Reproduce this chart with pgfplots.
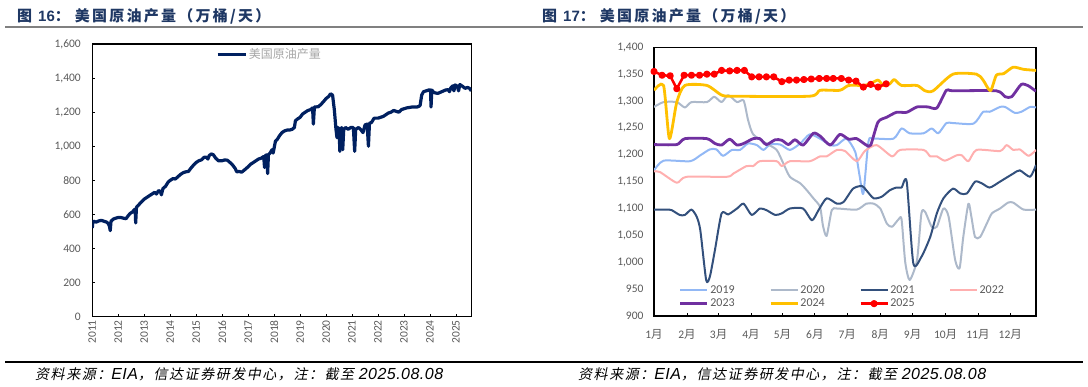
\documentclass[border=0pt]{standalone}
\usepackage{pgfplots}
\pgfplotsset{compat=1.18}
\usepackage{fontspec}
\setmainfont{Carlito}
\newfontfamily\cjk{Noto Sans CJK SC}
\newfontfamily\cjkt{Noto Sans CJK SC}[LetterSpace=15]
\newfontfamily\cjkit{Noto Sans CJK SC}[FakeSlant=0.2, LetterSpace=11]
\newfontfamily\arial{Liberation Sans}
\newfontfamily\arialsp{Liberation Sans}[LetterSpace=3]
\definecolor{titleblue}{HTML}{1F3864}
\definecolor{labelgray}{HTML}{595959}
\definecolor{leggray}{HTML}{A6A6A6}
\definecolor{navy}{HTML}{002060}
\definecolor{c2019}{HTML}{92B8F5}
\definecolor{c2020}{HTML}{ADB9CA}
\definecolor{c2021}{HTML}{33507C}
\definecolor{c2022}{HTML}{FFAFAF}
\definecolor{c2023}{HTML}{7030A0}
\definecolor{c2024}{HTML}{FFC000}
\definecolor{c2025}{HTML}{FF0000}
\begin{document}
\begin{tikzpicture}[x=1pt,y=1pt]
\path[use as bounding box] (0,0) rectangle (1088,387);
% titles
\node[anchor=west, inner sep=0, text=titleblue] at (17,371) {\fontsize{15}{18}\selectfont{\cjkt\bfseries 图}\hspace{6pt}{\arial\bfseries 16}{\cjkt\bfseries ：}\hspace{5pt}{\cjkt\bfseries 美国原油产量（万桶/天）}};
\node[anchor=west, inner sep=0, text=titleblue] at (542,371) {\fontsize{15}{18}\selectfont{\cjkt\bfseries 图}\hspace{6pt}{\arial\bfseries 17}{\cjkt\bfseries ：}\hspace{5pt}{\cjkt\bfseries 美国原油产量（万桶/天）}};
\draw[line width=2pt, color=black!50] (5,360) -- (1083,360);
\draw[line width=1.2pt, black] (5,25) -- (1083,25);
\node[anchor=west, inner sep=0] at (35,12.5) {\fontsize{14}{16}\selectfont\cjkit 资料来源：{\arialsp\itshape\fontsize{16}{16}\selectfont EIA}，信达证券研发中心，注：截至 {\arialsp\itshape\fontsize{16}{16}\selectfont 2025.08.08}};
\node[anchor=west, inner sep=0] at (578,12.5) {\fontsize{14}{16}\selectfont\cjkit 资料来源：{\arialsp\itshape\fontsize{16}{16}\selectfont EIA}，信达证券研发中心，注：截至 {\arialsp\itshape\fontsize{16}{16}\selectfont 2025.08.08}};

% left chart
\begin{axis}[
  at={(92.3pt,70.3pt)}, anchor=south west, scale only axis,
  width=379pt, height=272.7pt,
  xmin=2011, xmax=2025.59, ymin=0, ymax=1600,
  xtick={2011,...,2025}, ytick={0,200,...,1600},
  xtick pos=bottom, ytick pos=left, tick align=inside,
  major tick length=3pt,
  axis line style={line width=1.1pt, black},
  tick style={black, line width=0.8pt},
  /pgf/number format/assume math mode=true,
  yticklabel style={font=\fontsize{11.5}{12}\selectfont, text=labelgray, /pgf/number format/1000 sep={,}, xshift=-8pt},
  xticklabel style={font=\fontsize{11.5}{12}\selectfont, text=labelgray, rotate=90, anchor=east, /pgf/number format/1000 sep={}},
  legend style={at={(0.326,0.99)}, anchor=north west, draw=none, fill=none, font={\cjk\fontsize{12}{13}\selectfont}, text=leggray, inner sep=0pt, nodes={inner sep=1.5pt}},
  legend image code/.code={\draw[#1] (0pt,0pt) -- (28pt,0pt);},
]
\addplot[color=navy, line width=3.2pt, line join=round] coordinates {
(2011.00,520)(2011.02,555)(2011.05,560)(2011.15,555)(2011.25,562)(2011.35,565)(2011.45,560)
(2011.55,555)(2011.62,545)(2011.66,530)(2011.69,505)(2011.72,560)(2011.80,572)(2011.90,578)
(2012.00,582)(2012.10,582)(2012.20,578)(2012.30,575)(2012.38,592)(2012.45,605)(2012.55,615)
(2012.62,628)(2012.65,630)(2012.67,550)(2012.70,642)(2012.78,655)(2012.88,672)(2013.00,690)
(2013.10,700)(2013.20,710)(2013.30,720)(2013.40,730)(2013.47,720)(2013.55,740)(2013.62,735)
(2013.66,715)(2013.72,752)(2013.82,765)(2013.92,790)(2014.00,800)(2014.10,810)(2014.20,808)
(2014.30,822)(2014.40,835)(2014.50,845)(2014.60,850)(2014.70,852)(2014.80,872)(2014.90,890)
(2015.00,905)(2015.10,915)(2015.20,920)(2015.30,935)(2015.40,935)(2015.45,925)(2015.50,945)
(2015.58,955)(2015.66,950)(2015.75,930)(2015.85,915)(2016.00,915)(2016.10,920)(2016.20,918)
(2016.30,905)(2016.40,890)(2016.50,870)(2016.56,850)(2016.65,852)(2016.75,848)(2016.85,860)
(2017.00,880)(2017.10,895)(2017.20,905)(2017.30,915)(2017.40,925)(2017.50,930)(2017.55,935)
(2017.60,940)(2017.63,875)(2017.66,945)(2017.72,950)(2017.75,840)(2017.78,950)(2017.85,962)
(2017.92,980)(2017.96,960)(2018.00,990)(2018.05,1030)(2018.12,1040)(2018.20,1060)(2018.30,1080)
(2018.40,1090)(2018.50,1095)(2018.60,1095)(2018.70,1100)(2018.78,1110)(2018.82,1150)(2018.90,1160)
(2019.00,1170)(2019.10,1190)(2019.20,1200)(2019.30,1210)(2019.40,1215)(2019.48,1225)(2019.51,1130)
(2019.55,1230)(2019.70,1232)(2019.80,1245)(2019.90,1262)(2020.00,1280)(2020.10,1292)(2020.17,1308)
(2020.25,1300)(2020.32,1210)(2020.38,1100)(2020.42,1050)(2020.46,1110)(2020.50,1100)(2020.53,970)
(2020.56,1090)(2020.60,1110)(2020.64,980)(2020.68,1100)(2020.75,1110)(2020.85,1100)(2020.95,1110)
(2021.05,1110)(2021.10,970)(2021.14,1100)(2021.25,1110)(2021.35,1095)(2021.42,1080)(2021.50,1125)
(2021.58,1130)(2021.63,1000)(2021.67,1135)(2021.75,1140)(2021.85,1165)(2022.00,1165)(2022.10,1170)
(2022.20,1175)(2022.30,1185)(2022.40,1195)(2022.50,1200)(2022.60,1210)(2022.70,1205)(2022.80,1200)
(2022.90,1215)(2023.00,1220)(2023.10,1225)(2023.30,1230)(2023.50,1230)(2023.58,1235)(2023.62,1240)
(2023.68,1300)(2023.75,1320)(2023.85,1325)(2023.95,1330)(2024.02,1330)(2024.04,1230)(2024.07,1330)
(2024.15,1315)(2024.30,1310)(2024.45,1320)(2024.60,1330)(2024.70,1332)(2024.75,1320)(2024.80,1342)
(2024.88,1355)(2024.92,1325)(2024.97,1360)(2025.05,1352)(2025.10,1325)(2025.15,1362)(2025.25,1352)
(2025.35,1340)(2025.45,1345)(2025.52,1340)(2025.59,1325)
};
\addlegendentry{美国原油产量}
\end{axis}

% right chart
\begin{axis}[
  at={(654pt,71pt)}, anchor=south west, scale only axis,
  width=382pt, height=268.7pt,
  xmin=0, xmax=52, ymin=900, ymax=1400,
  ytick={900,950,...,1400},
  xtick={0,4.49,8.8,13.2,17.5,21.9,26.3,30.8,35.2,39.7,44.1,48.5},
  xticklabels={1{\cjk 月},2{\cjk 月},3{\cjk 月},4{\cjk 月},5{\cjk 月},6{\cjk 月},7{\cjk 月},8{\cjk 月},9{\cjk 月},10{\cjk 月},11{\cjk 月},12{\cjk 月}},
  xtick pos=bottom, ytick pos=left, tick align=inside,
  major tick length=3pt,
  axis line style={line width=1.1pt, black},
  xtick style={black, line width=0.8pt},
  ytick style={draw=none},
  /pgf/number format/assume math mode=true,
  yticklabel style={font=\fontsize{11.5}{12}\selectfont, text=labelgray, /pgf/number format/1000 sep={,}, xshift=-7pt},
  xticklabel style={font=\fontsize{11.5}{12}\selectfont, text=labelgray, yshift=-10pt},
  legend columns=4,
  legend style={at={(0.065,0.119)}, anchor=north west, draw=none, fill=none, font=\fontsize{12}{13}\selectfont, text=labelgray, inner sep=0pt, nodes={inner sep=1.5pt}, row sep=1pt, /tikz/every even column/.append style={column sep=33pt}},
  legend image code/.code={\draw[mark repeat=2,mark phase=2,#1] plot coordinates {(0pt,0pt) (13.5pt,0pt) (27pt,0pt)};},
  every axis plot/.append style={line join=round},
]
\addplot[color=c2019, line width=2pt, smooth, tension=0.4] coordinates {
(0,1171)(1.3,1189)(4.9,1188)(6.3,1199)(7.6,1210)(8.5,1210)(9.4,1198)(10.6,1209)(11.7,1209)
(12.8,1221)(14.0,1218)(14.9,1209)(15.8,1219)(17.2,1219)(18.5,1209)(19.9,1221)(21.2,1238)
(22.6,1230)(24.0,1218)(24.9,1218)(26.2,1230)(27.4,1205)(28.0,1160)(28.5,1128)(29.2,1225)
(29.9,1230)(32.6,1230)(33.7,1249)(34.8,1240)(36.7,1240)(37.8,1249)(38.7,1240)(39.8,1259)
(40.7,1259)(43.5,1258)(44.8,1280)(45.7,1280)(47.1,1289)(47.8,1289)(49.1,1278)(50.0,1280)
(51.2,1289)(52.0,1288)
};
\addlegendentry{2019}
\addplot[color=c2020, line width=2pt, smooth, tension=0.4] coordinates {
(0,1289)(1.3,1298)(3.1,1298)(4.2,1288)(5.1,1298)(7.2,1298)(8.2,1308)(9.2,1298)(10.1,1311)
(11.3,1298)(12.2,1301)(12.8,1265)(13.5,1238)(15.3,1221)(16.7,1209)(17.6,1184)(18.5,1159)
(19.9,1147)(20.8,1134)(21.7,1119)(22.6,1103)(23.0,1068)(23.5,1049)(24.2,1097)(24.9,1100)
(27.6,1098)(28.9,1109)(29.9,1109)(30.8,1100)(31.7,1072)(32.4,1066)(33.3,1080)(33.7,1080)
(34.2,1000)(34.8,967)(35.8,1004)(36.4,1091)(36.9,1094)(37.8,1066)(38.5,1066)(39.4,1100)
(40.1,1085)(41.0,1004)(41.6,989)(42.1,1047)(42.8,1109)(43.2,1085)(43.7,1047)(44.4,1047)
(45.3,1072)(46.0,1091)(47.1,1100)(48.2,1111)(48.9,1111)(50.3,1098)(52.0,1098)
};
\addlegendentry{2020}
\addplot[color=c2021, line width=2pt, smooth, tension=0.4] coordinates {
(0,1098)(1.7,1098)(2.4,1097)(3.5,1088)(4.2,1088)(5.1,1098)(5.8,1085)(6.3,1060)(7.1,967)
(7.6,973)(8.3,1023)(9.2,1091)(10.1,1089)(11.3,1100)(12.2,1109)(13.3,1088)(14.4,1100)
(15.3,1097)(16.5,1088)(17.4,1091)(18.5,1100)(20.3,1100)(21.5,1078)(22.4,1097)(23.5,1119)
(24.9,1109)(25.8,1112)(27.1,1137)(28.3,1142)(28.9,1134)(29.9,1119)(31.0,1122)(32.1,1134)
(33.0,1139)(33.7,1139)(34.4,1150)(35.3,998)(36.4,1010)(37.6,1047)(38.5,1091)(39.4,1119)
(40.7,1137)(41.7,1128)(42.6,1128)(43.7,1150)(44.6,1147)(45.7,1139)(47.1,1150)(48.9,1165)
(49.8,1171)(51.2,1159)(52.0,1181)
};
\addlegendentry{2021}
\addplot[color=c2022, line width=2pt, smooth, tension=0.4] coordinates {
(0,1169)(0.8,1168)(3.1,1148)(4.4,1159)(9.9,1159)(10.8,1165)(12.6,1179)(13.5,1179)(14.4,1188)
(16.7,1188)(17.4,1179)(18.5,1188)(21.2,1188)(22.6,1197)(23.5,1197)(24.9,1209)(26.0,1207)
(27.6,1188)(28.7,1207)(30.3,1218)(32.4,1197)(33.5,1209)(36.7,1209)(37.6,1197)(38.5,1197)
(39.6,1189)(41.2,1199)(41.9,1199)(42.8,1188)(43.9,1209)(47.1,1207)(48.0,1218)(48.9,1209)
(49.8,1210)(51.0,1198)(52.0,1209)
};
\addlegendentry{2022}
\addplot[color=c2023, line width=2.8pt, smooth, tension=0.4] coordinates {
(0,1219)(3.1,1219)(4.2,1230)(7.2,1230)(8.3,1221)(9.2,1218)(10.3,1229)(11.3,1218)(12.2,1221)
(13.5,1230)(14.4,1230)(15.3,1219)(16.5,1228)(17.4,1227)(18.3,1219)(19.2,1228)(20.3,1218)
(21.7,1240)(22.6,1235)(24.0,1218)(25.3,1238)(26.5,1229)(27.6,1230)(28.9,1218)(29.5,1218)
(30.5,1261)(31.7,1270)(33.0,1279)(34.4,1279)(35.8,1289)(37.3,1289)(38.5,1287)(39.8,1320)
(40.7,1319)(46.6,1319)(47.8,1308)(48.7,1308)(50.0,1331)(51.0,1328)(52.0,1318)
};
\addlegendentry{2023}
\addplot[color=c2024, line width=2.8pt, smooth, tension=0.4] coordinates {
(0,1320)(1.3,1329)(2.1,1230)(3.1,1298)(4.2,1329)(7.2,1329)(9.2,1311)(10.8,1309)(21.2,1309)
(22.6,1320)(25.3,1320)(26.5,1329)(28.5,1329)(29.4,1332)(30.5,1339)(31.2,1329)(32.1,1332)
(32.7,1340)(33.7,1329)(35.8,1329)(36.9,1319)(38.0,1319)(40.7,1350)(43.9,1350)(44.8,1339)
(45.8,1319)(46.6,1348)(47.6,1351)(48.9,1363)(50.3,1359)(52.0,1357)
};
\addlegendentry{2024}
\addplot[color=c2025, line width=2.5pt, mark=*, mark size=2.3pt] coordinates {
(0,1355)(1.1,1348)(2.2,1347)(3.1,1323)(4.1,1348)(5.1,1348)(6.2,1348)(7.2,1350)(8.2,1350)
(9.2,1357)(10.3,1356)(11.3,1357)(12.3,1357)(13.3,1345)(14.3,1345)(15.3,1345)(16.3,1345)
(17.4,1336)(18.4,1339)(19.4,1339)(20.4,1340)(21.4,1341)(22.5,1342)(23.5,1342)(24.4,1342)
(25.5,1342)(26.5,1339)(27.5,1337)(28.5,1326)(29.5,1331)(30.5,1326)(31.6,1332)
};
\addlegendentry{2025}
\end{axis}
\end{tikzpicture}
\end{document}
